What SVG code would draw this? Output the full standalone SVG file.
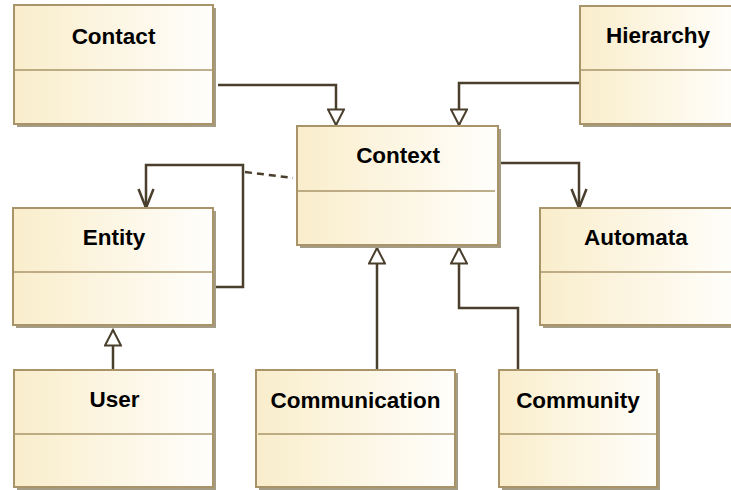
<svg xmlns="http://www.w3.org/2000/svg" width="731" height="490" viewBox="0 0 731 490">
<defs>
<linearGradient id="g" x1="0" y1="0" x2="1" y2="0">
<stop offset="0" stop-color="#f9edcb"/>
<stop offset="1" stop-color="#fffefb"/>
</linearGradient>
<marker id="gen" viewBox="0 0 20 18" refX="17" refY="9" markerWidth="20" markerHeight="18" markerUnits="userSpaceOnUse" orient="auto">
<path d="M1.5,1 L17,9 L1.5,17 Z" fill="#fff" stroke="#4a3f2c" stroke-width="2"/>
</marker>
<marker id="open" viewBox="0 0 22 18" refX="20" refY="9" markerWidth="22" markerHeight="18" markerUnits="userSpaceOnUse" orient="auto">
<path d="M1,1.5 L20,9 L1,16.5" fill="none" stroke="#4a3f2c" stroke-width="2.5"/>
</marker>
</defs>
<style>
.sh{fill:#a59c86}
.bx{fill:url(#g);stroke:#a89468;stroke-width:2}
.dv{stroke:#a89468;stroke-width:1.5}
.t{font-family:"Liberation Sans",Arial,sans-serif;font-weight:bold;font-size:22.5px;fill:#000;text-anchor:middle}
.c{fill:none;stroke:#4a3f2c;stroke-width:2.5}
</style>
<g id="connectors">
<polyline class="c" points="218,85 336,85 336,125" marker-end="url(#gen)"/>
<polyline class="c" points="580,83 459,83 459,125" marker-end="url(#gen)"/>
<polyline class="c" points="500,163 579,163 579,208" marker-end="url(#open)"/>
<polyline class="c" points="216,287 243,287 243,165 146,165 146,208" marker-end="url(#open)"/>
<path class="c" d="M245,172 L293,178" stroke-dasharray="7,5"/>
<polyline class="c" points="377,370 377,248" marker-end="url(#gen)"/>
<polyline class="c" points="518,370 518,308 459,308 459,248" marker-end="url(#gen)"/>
<polyline class="c" points="113,370 113,330" marker-end="url(#gen)"/>
</g>
<g id="Contact">
<rect class="sh" x="17" y="8" width="199" height="119"/>
<rect class="bx" x="14" y="5" width="199" height="119"/>
<line class="dv" x1="14" y1="70" x2="213" y2="70"/>
<text class="t" x="113.5" y="44">Contact</text>
</g>
<g id="Hierarchy">
<rect class="sh" x="583" y="9" width="156" height="118"/>
<rect class="bx" x="580" y="6" width="156" height="118"/>
<line class="dv" x1="580" y1="70" x2="736" y2="70"/>
<text class="t" x="658" y="43">Hierarchy</text>
</g>
<g id="Context">
<rect class="sh" x="300" y="129" width="201" height="119"/>
<rect class="bx" x="297" y="126" width="201" height="119"/>
<line class="dv" x1="297" y1="191" x2="495" y2="191"/>
<text class="t" x="398" y="163">Context</text>
</g>
<g id="Entity">
<rect class="sh" x="16" y="211" width="200" height="117"/>
<rect class="bx" x="13" y="208" width="200" height="117"/>
<line class="dv" x1="13" y1="272" x2="213" y2="272"/>
<text class="t" x="114" y="245">Entity</text>
</g>
<g id="Automata">
<rect class="sh" x="543" y="211" width="196" height="117"/>
<rect class="bx" x="540" y="208" width="196" height="117"/>
<line class="dv" x1="540" y1="272" x2="736" y2="272"/>
<text class="t" x="636" y="245">Automata</text>
</g>
<g id="User">
<rect class="sh" x="17" y="373" width="199" height="117"/>
<rect class="bx" x="14" y="370" width="199" height="117"/>
<line class="dv" x1="14" y1="434" x2="213" y2="434"/>
<text class="t" x="114.5" y="407">User</text>
</g>
<g id="Communication">
<rect class="sh" x="259" y="373" width="199" height="117"/>
<rect class="bx" x="256" y="370" width="199" height="117"/>
<line class="dv" x1="258" y1="434" x2="455" y2="434"/>
<text class="t" x="355.5" y="408">Communication</text>
</g>
<g id="Community">
<rect class="sh" x="502" y="373" width="158" height="117"/>
<rect class="bx" x="499" y="370" width="158" height="117"/>
<line class="dv" x1="499" y1="434" x2="657" y2="434"/>
<text class="t" x="578" y="408">Community</text>
</g>
</svg>
